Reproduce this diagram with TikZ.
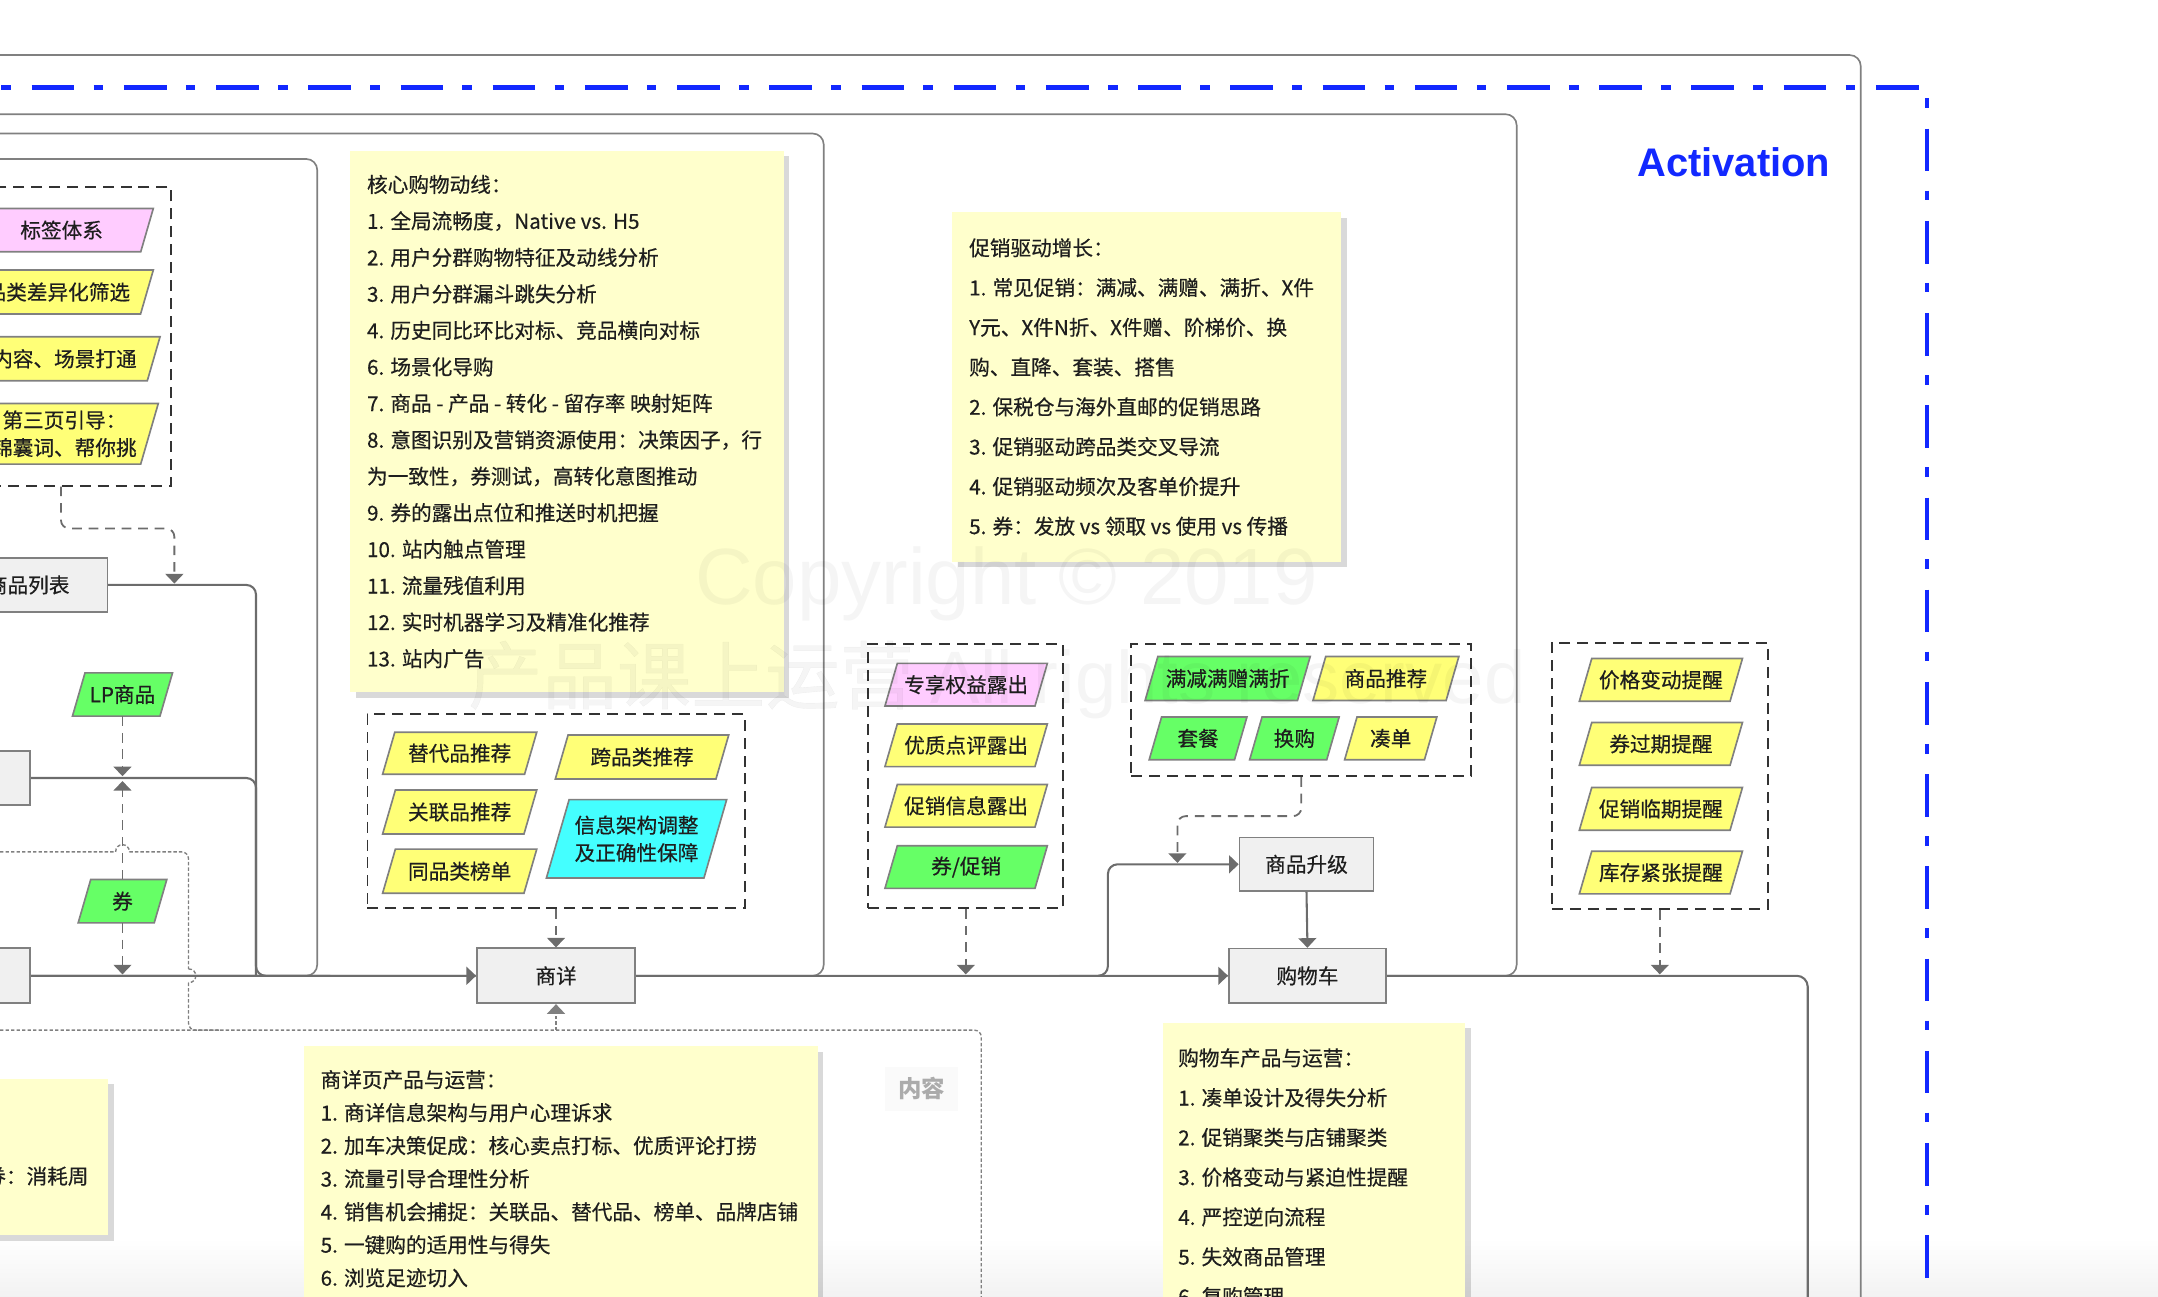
\documentclass[tikz,border=0pt]{standalone}
\usepackage{fontspec}
\setmainfont{Noto Sans CJK SC}[UprightFeatures={FakeBold=0.45}]
\newfontfamily\latf{Liberation Sans}
\usetikzlibrary{arrows.meta,shadows,calc}
\definecolor{lineg}{RGB}{108,108,108}
\definecolor{frameg}{RGB}{128,128,128}
\definecolor{boxfill}{RGB}{240,240,240}
\definecolor{notefill}{RGB}{255,255,204}
\definecolor{pyellow}{RGB}{255,255,119}
\definecolor{ppink}{RGB}{255,204,255}
\definecolor{pgreen}{RGB}{102,255,102}
\definecolor{pcyan}{RGB}{68,255,255}
\definecolor{actblue}{RGB}{18,40,255}
\definecolor{txt}{RGB}{30,30,30}
\tikzset{
  frm/.style={draw=frameg, line width=1.2pt, rounded corners=8pt},
  flowln/.style={draw=lineg, line width=1.5pt},
  arrowed/.style={-{Triangle[width=13pt,length=7pt]}},
  dconn/.style={draw=lineg, line width=1.3pt, dash pattern=on 7pt off 5pt},
  dotln/.style={draw=frameg, line width=1pt, dash pattern=on 2.5pt off 1.5pt},
  grp/.style={draw=black!80, line width=1.4pt, dash pattern=on 8pt off 5pt, inner sep=0pt},
  gbox/.style={draw=frameg, fill=boxfill, line width=1.2pt, inner sep=0pt, font=\fontsize{15}{18}\selectfont, text=txt},
  pgborder/.style={draw=frameg, line width=1.2pt},
  pgtext/.style={inner sep=0pt, align=center, font=\fontsize{15}{20}\selectfont, text=txt},
  notebox/.style={fill=notefill, draw=none, inner sep=0pt, drop shadow={shadow xshift=4pt, shadow yshift=-4pt, fill=black, opacity=0.15}},
  noteline/.style={anchor=west, inner sep=0pt, text height=12.75pt, text depth=2.25pt, font=\fontsize{15}{18}\selectfont, text=txt},
}
% parallelogram: name, cx, cy, total width, height, fill, text
\newcommand\pgm[7]{%
  \filldraw[pgborder, fill=#6] ({#2-#4/2},{#3+#5/2}) -- ({#2-#4/2+0.29*#5},{#3-#5/2}) -- ({#2+#4/2},{#3-#5/2}) -- ({#2+#4/2-0.29*#5},{#3+#5/2}) -- cycle;
  \node[pgtext, minimum height=#5] (#1) at (#2,#3) {#7};
}
\begin{document}
\begin{tikzpicture}[x=1pt,y=-1pt]
\useasboundingbox (0,0) rectangle (1568,942);
\clip (0,0) rectangle (1568,942);
\shade[top color=white, bottom color=black!5] (0,900) rectangle (1568,942);

% frames
\draw[frm] (-20,40) -- (1352,40) -- (1352,960);
\draw[frm] (-20,83) -- (1102,83) -- (1102,709) -- (-20,709);
\draw[frm] (-20,97) -- (598.5,97) -- (598.5,709) -- (-20,709);
\draw[frm] (-20,115.5) -- (230.5,115.5) -- (230.5,709) -- (-20,709);

% blue activation border
\draw[actblue, line width=3.2pt, dash pattern=on 31pt off 14pt on 7pt off 15pt, dash phase=44pt] (0,63.5) -- (1400,63.5) -- (1400,960);

% content dotted frame
\draw[dotln] (-20,619) -- (84,619) .. controls (84,612) and (94,612) .. (94,619);
\draw[dotln, rounded corners=5pt] (94,619) -- (137,619) -- (137,704);
\draw[dotln] (137,704) .. controls (144,704) and (144,714) .. (137,714);
\draw[dotln, rounded corners=5pt] (137,714) -- (137,748.5) -- (160,748.5);
\draw[dotln, rounded corners=5pt] (-20,748.5) -- (713,748.5) -- (713,960);

% main boxes
\node[gbox, minimum width=115, minimum height=39] (list) at (20.5,425) {商品列表};
\node[gbox, minimum width=102, minimum height=39.5] (b2) at (-29,565.3) {};
\node[gbox, minimum width=102, minimum height=40] (b3) at (-29,709) {};
\node[gbox, minimum width=115, minimum height=40] (sx) at (404,709) {商详};
\node[gbox, minimum width=97.4, minimum height=39] (upg) at (949.3,628) {商品升级};
\node[gbox, minimum width=114.4, minimum height=39.5] (cart) at (950,709) {购物车};

% group boxes
\node[grp, minimum width=144.3, minimum height=217] (g1) at (52.15,244.5) {};
\node[grp, minimum width=274, minimum height=141] (g2) at (404,589.5) {};
\node[grp, minimum width=141.5, minimum height=192] (g3) at (701.75,564) {};
\node[grp, minimum width=247, minimum height=96] (g4) at (945.5,516) {};
\node[grp, minimum width=156.7, minimum height=193.8] (g5) at (1206,563.9) {};

% parallelograms
\pgm{tag}{44.8}{167.2}{133.2}{31.5}{ppink}{标签体系}
\pgm{diff}{42}{212.2}{138.8}{32}{pyellow}{品类差异化筛选}
\pgm{scene}{46.8}{260.7}{139}{32}{pyellow}{内容、场景打通}
\pgm{third}{46.8}{315.2}{136.4}{44}{pyellow}{第三页引导：\\锦囊词、帮你挑}
\pgm{lp}{89}{504.6}{72.7}{31.4}{pgreen}{LP商品}
\pgm{quan}{89}{654.8}{64.4}{31.5}{pgreen}{券}
\pgm{alt}{334}{547.3}{112}{30.5}{pyellow}{替代品推荐}
\pgm{cross}{466.5}{550}{126}{32}{pyellow}{跨品类推荐}
\pgm{rel}{334}{590}{112}{32}{pyellow}{关联品推荐}
\pgm{rank}{334}{633}{112}{32}{pyellow}{同品类榜单}
\pgm{info}{462.5}{609.5}{131}{57}{pcyan}{信息架构调整\\及正确性保障}
\pgm{excl}{702}{497.5}{118}{31}{ppink}{专享权益露出}
\pgm{rev}{702}{541.5}{118}{31}{pyellow}{优质点评露出}
\pgm{pinfo}{702}{585.5}{118}{31}{pyellow}{促销信息露出}
\pgm{cp}{702}{630}{118}{31}{pgreen}{券/促销}
\pgm{mj}{892}{493}{120}{32}{pgreen}{满减满赠满折}
\pgm{rec}{1007}{493}{106}{32}{pyellow}{商品推荐}
\pgm{tc}{870.5}{536.5}{71}{31}{pgreen}{套餐}
\pgm{hg}{940.5}{536.5}{65}{31}{pgreen}{换购}
\pgm{cd}{1010.5}{536.5}{67}{31}{pyellow}{凑单}
\pgm{pc}{1206.8}{494}{118.5}{31}{pyellow}{价格变动提醒}
\pgm{qg}{1206.8}{540.5}{118.5}{31}{pyellow}{券过期提醒}
\pgm{cl}{1206.8}{587.7}{118.5}{31}{pyellow}{促销临期提醒}
\pgm{kc}{1206.8}{634}{118.5}{31}{pyellow}{库存紧张提醒}

% solid flow connectors
\coordinate (j1) at (186,709);
\coordinate (j2) at (240,709);
\draw[flowln, rounded corners=7pt] (list.east) -| (j1) -- (j2);
\draw[flowln, rounded corners=7pt] (b2.east) -| (j1);
\draw[flowln, arrowed] (b3.east) -- (sx.west);
\draw[flowln, arrowed] (sx.east) -- (cart.west);
\coordinate (bra) at (770,709);
\coordinate (brb) at (805,628);
\draw[flowln, arrowed, rounded corners=7pt] (bra) -| (brb) -- (upg.west);
\draw[flowln, arrowed] (upg.south) -- (cart.north);
\coordinate (cend) at (1313.5,960);
\draw[flowln, rounded corners=8pt] (cart.east) -| (cend);

% dashed connectors
\coordinate (g1o) at (44.3,353.5);
\coordinate (g1m) at (44.3,384);
\coordinate (g1t) at (126.7,424);
\draw[dconn, arrowed, rounded corners=6pt] (g1o) -- (g1m) -| (g1t);
\coordinate (lpt) at (89,564);
\draw[dconn, arrowed] (lp.south) -- (lpt);
\coordinate (qut) at (89,567.5);
\draw[dconn, arrowed] (quan.north) -- (qut);
\coordinate (qdt) at (89,708);
\draw[dconn, arrowed] (quan.south) -- (qdt);
\draw[dconn, arrowed] (g2.south) -- (sx.north);
\coordinate (g3t) at (701.75,708);
\draw[dconn, arrowed] (g3.south) -- (g3t);
\coordinate (g4m) at (945.5,593);
\coordinate (g4t) at (855.5,627);
\draw[dconn, arrowed, rounded corners=6pt] (g4.south) -- (g4m) -| (g4t);
\coordinate (g5t) at (1206,708);
\draw[dconn, arrowed] (g5.south) -- (g5t);
\coordinate (nrb) at (404,748.5);
\draw[dotln, arrowed] (nrb) -- (sx.south);

% notes
\node[notebox, minimum width=314.9, minimum height=393.3] (n1) at (411.85,306.15) {};
\foreach \t [count=\i] in {核心购物动线：, 1. 全局流畅度，Native vs. H5, 2. 用户分群购物特征及动线分析, 3. 用户分群漏斗跳失分析, 4. 历史同比环比对标、竞品横向对标, 6. 场景化导购, 7. 商品 - 产品 - 转化 - 留存率 映射矩阵, 8. 意图识别及营销资源使用：决策因子，行, 为一致性，券测试，高转化意图推动, 9. 券的露出点位和推送时机把握, 10. 站内触点管理, 11. 流量残值利用, 12. 实时机器学习及精准化推荐, 13. 站内广告}
  \node[noteline] (na\i) at (266.5,{134.5+(\i-1)*26.5}) {\t};

\node[notebox, minimum width=282.6, minimum height=253.9] (n2) at (833.3,281.25) {};
\foreach \t [count=\i] in {促销驱动增长：, 1. 常见促销：满减、满赠、满折、X件, Y元、X件N折、X件赠、阶梯价、换, 购、直降、套装、搭售, 2. 保税仓与海外直邮的促销思路, 3. 促销驱动跨品类交叉导流, 4. 促销驱动频次及客单价提升, 5. 券：发放 vs 领取 vs 使用 vs 传播}
  \node[noteline] (nb\i) at (704,{180.5+(\i-1)*28.9}) {\t};

\node[notebox, minimum width=373.4, minimum height=210] (n3) at (407.5,865.2) {};
\foreach \t [count=\i] in {商详页产品与运营：, 1. 商详信息架构与用户心理诉求, 2. 加车决策促成：核心卖点打标、优质评论打捞, 3. 流量引导合理性分析, 4. 销售机会捕捉：关联品、替代品、榜单、品牌店铺, 5. 一键购的适用性与得失, 6. 浏览足迹切入}
  \node[noteline] (nc\i) at (232.8,{784.9+(\i-1)*24}) {\t};

\node[notebox, minimum width=219.7, minimum height=227] (n4) at (954.65,856.5) {};
\foreach \t [count=\i] in {购物车产品与运营：, 1. 凑单设计及得失分析, 2. 促销聚类与店铺聚类, 3. 价格变动与紧迫性提醒, 4. 严控逆向流程, 5. 失效商品管理, 6. 复购管理}
  \node[noteline] (nd\i) at (855.9,{769.1+(\i-1)*28.9}) {\t};

\node[notebox, minimum width=98.7, minimum height=113.8] (n5) at (29.35,840.6) {};
\node[noteline, anchor=east] (ne1) at (64.5,855) {券：消耗周};

% labels
\node[anchor=base east, inner sep=0pt, text=actblue, font=\latf\bfseries\fontsize{29}{32}\selectfont] (act) at (1330,128.5) {Activation};
\node[fill=black!2, minimum width=53, minimum height=32, inner sep=0pt, text=black!33, font=\fontsize{17}{20}\selectfont\bfseries] (nrl) at (669.5,791) {内容};

% watermark
\node[anchor=base west, inner sep=0pt, text=black, opacity=0.04, font=\latf\fontsize{58}{60}\selectfont] (wm1) at (505,439) {Copyright © 2019};
\node[anchor=base west, inner sep=0pt, text=black, opacity=0.04, font=\fontsize{54}{60}\selectfont] (wm2) at (340,511) {产品课上运营 {\latf All rights reserved}};
\end{tikzpicture}
\end{document}
